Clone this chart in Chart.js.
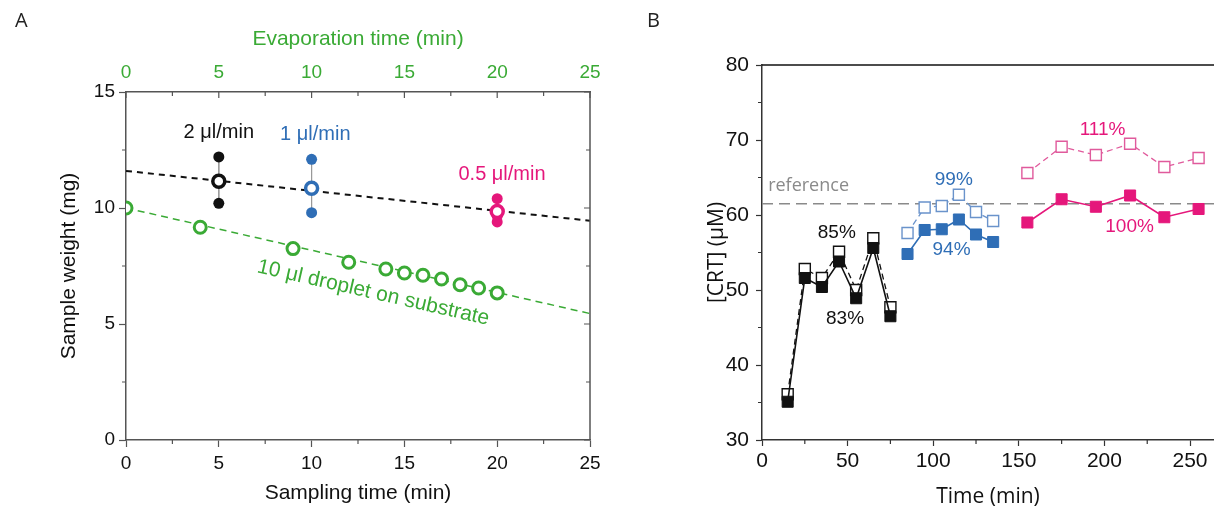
<!DOCTYPE html>
<html>
<head>
<meta charset="utf-8">
<script src="https://cdn.jsdelivr.net/npm/chart.js@4.4.0/dist/chart.umd.min.js"></script>
<style>
  html, body { margin: 0; padding: 0; background: #fff; }
  #wrap { position: relative; width: 1214px; height: 510px; overflow: hidden; }
  .panel { position: absolute; top: 0; height: 510px; }
  #panelA { left: 0; width: 640px; }
  #panelB { left: 640px; width: 574px; }
  .letter { position: absolute; top: 6px; font: 20px "Open Sans", sans-serif; color: #222; }
</style>
</head>
<body>
<div id="wrap">
  <div class="panel" id="panelA"><canvas id="chartA"></canvas></div>
  <div class="panel" id="panelB"><canvas id="chartB"></canvas></div>
  <div class="letter" style="left:15px">A</div>
  <div class="letter" style="left:647px">B</div>
</div>
<script>
// ---- panel A: sample weight vs time ----
var flowTimes = [5, 10, 20];
var flowLabels = ['2 μl/min', '1 μl/min', '0.5 μl/min'];
var flowReps = [[12.2, 10.2], [12.1, 9.8], [10.4, 9.65, 9.4]];
var flowMeans = [11.15, 10.85, 9.85];
var fitRange = [0, 25];
var flowFit = [11.6, 9.45];
var evapTimes = [0, 4, 9, 12, 14, 15, 16, 17, 18, 19, 20];
var evapWeights = [10.0, 9.17, 8.25, 7.66, 7.37, 7.2, 7.1, 6.94, 6.69, 6.55, 6.34];
var evapFit = [10.0, 5.45];
var evapLabel = '10 μl droplet on substrate';

// ---- panel B: [CRT] vs time ----
var timesFast = [15, 25, 35, 45, 55, 65, 75];
var crtFastFilled = [35.1, 51.6, 50.4, 53.8, 48.9, 55.6, 46.5];
var crtFastOpen = [36.1, 52.8, 51.6, 55.1, 50.0, 56.9, 47.7];
var timesMid = [85, 95, 105, 115, 125, 135];
var crtMidFilled = [54.8, 58.0, 58.1, 59.4, 57.4, 56.4];
var crtMidOpen = [57.6, 61.0, 61.2, 62.7, 60.4, 59.2];
var timesSlow = [155, 175, 195, 215, 235, 255];
var crtSlowFilled = [59.0, 62.1, 61.1, 62.6, 59.7, 60.8];
var crtSlowOpen = [65.6, 69.1, 68.0, 69.5, 66.4, 67.6];
var referenceLevel = 61.5;
var recoveryLabels = ['85%', '83%', '99%', '94%', '111%', '100%'];

var BLACK = '#111111', BLUE = '#2f6eb6', BLUE_LT = '#6a93cb', PINK = '#e5177b', PINK_LT = '#e05a9c', GREEN = '#3aaa35';
var ARIAL = '"Liberation Sans", Arial, sans-serif';
var HUMAN = '"Open Sans", "Noto Sans", sans-serif';

function pts(xs, ys) {
    return xs.map(function (x, i) { return {x: x, y: ys[i]}; });
}

// keep the axis boxes at a fixed size
function fixBox(w, h) {
    return function (s) {
        if (w !== null) s.width = w;
        if (h !== null) s.height = h;
        s.paddingLeft = s.paddingRight = 0;
    };
}

// minor ticks, mirrored ticks and extra frame lines
function framePlugin(id, cfg) {
    return {
        id: id,
        afterDraw: function (chart) {
            var ctx = chart.ctx, a = chart.chartArea, sx = chart.scales.x, sy = chart.scales.y;
            ctx.save();
            ctx.strokeStyle = cfg.color;
            ctx.lineWidth = 1.5;
            ctx.beginPath();
            if (cfg.right) { ctx.moveTo(a.right, a.top); ctx.lineTo(a.right, a.bottom); }
            if (cfg.topLine) { ctx.strokeStyle = BLACK; ctx.moveTo(a.left, a.top); ctx.lineTo(a.right, a.top); }
            ctx.stroke();
            ctx.strokeStyle = cfg.color;
            ctx.lineWidth = 1.2;
            ctx.beginPath();
            var v, p, major;
            for (v = sx.min; v <= sx.max + 1e-6; v += cfg.xMinor) {
                p = sx.getPixelForValue(v);
                major = Math.abs(v / cfg.xMajor - Math.round(v / cfg.xMajor)) < 1e-6;
                if (!major) { ctx.moveTo(p, a.bottom); ctx.lineTo(p, a.bottom + 4); }
                if (cfg.topTicks) { ctx.moveTo(p, a.top); ctx.lineTo(p, a.top + (major ? 6 : 4)); }
            }
            for (v = sy.min; v <= sy.max + 1e-6; v += cfg.yMinor) {
                p = sy.getPixelForValue(v);
                major = Math.abs(v / cfg.yMajor - Math.round(v / cfg.yMajor)) < 1e-6;
                if (!major) { ctx.moveTo(a.left, p); ctx.lineTo(a.left - 4, p); }
                if (cfg.right) { ctx.moveTo(a.right, p); ctx.lineTo(a.right - (major ? 6 : 4), p); }
            }
            ctx.stroke();
            ctx.restore();
        }
    };
}

// text notes placed in data coordinates
function notesPlugin(id, notes) {
    return {
        id: id,
        afterDatasetsDraw: function (chart) {
            var ctx = chart.ctx, sx = chart.scales.x, sy = chart.scales.y;
            ctx.save();
            notes.forEach(function (n) {
                ctx.save();
                ctx.font = n.font;
                ctx.fillStyle = n.color;
                ctx.textAlign = 'center';
                ctx.textBaseline = 'middle';
                ctx.translate(sx.getPixelForValue(n.x), sy.getPixelForValue(n.y));
                if (n.along) {
                    var dx = sx.getPixelForValue(n.along[2]) - sx.getPixelForValue(n.along[0]);
                    var dy = sy.getPixelForValue(n.along[3]) - sy.getPixelForValue(n.along[1]);
                    ctx.rotate(Math.atan2(dy, dx));
                }
                ctx.fillText(n.text, 0, 0);
                ctx.restore();
            });
            ctx.restore();
        }
    };
}

// ---------------- panel A ----------------
var rateColors = [BLACK, BLUE, PINK];
var dsA = [];
flowTimes.forEach(function (t, i) {
    dsA.push({
        data: flowReps[i].map(function (v) { return {x: t, y: v}; }),
        showLine: false, pointRadius: 5.5, pointBorderWidth: 0,
        backgroundColor: rateColors[i], borderColor: rateColors[i], order: 2
    });
    dsA.push({
        data: [{x: t, y: flowMeans[i]}],
        showLine: false, pointRadius: 6, pointBorderWidth: 3.5,
        backgroundColor: '#ffffff', borderColor: rateColors[i], order: 1
    });
    dsA.push({
        data: [{x: t, y: Math.max.apply(null, flowReps[i])}, {x: t, y: Math.min.apply(null, flowReps[i])}],
        borderColor: '#9a9a9a', borderWidth: 1, pointRadius: 0, order: 4
    });
});
dsA.push({
    data: pts(fitRange, flowFit),
    borderColor: BLACK, borderWidth: 2, borderDash: [6, 5], pointRadius: 0, order: 5
});
dsA.push({
    data: pts(fitRange, evapFit),
    borderColor: GREEN, borderWidth: 1.5, borderDash: [7, 5], pointRadius: 0, order: 5
});
dsA.push({
    data: pts(evapTimes, evapWeights),
    showLine: false, pointRadius: 6, pointBorderWidth: 3,
    backgroundColor: '#ffffff', borderColor: GREEN, order: 0
});

var notesA = [
    {text: flowLabels[0], x: 5, y: 13.26, color: BLACK, font: '20px ' + ARIAL},
    {text: flowLabels[1], x: 10.2, y: 13.16, color: BLUE, font: '20px ' + ARIAL},
    {text: flowLabels[2], x: 20.26, y: 11.43, color: PINK, font: '20px ' + ARIAL},
    {text: evapLabel, x: 13.32, y: 6.34, color: GREEN, font: '21px ' + ARIAL,
        along: [fitRange[0], evapFit[0], fitRange[1], evapFit[1]]}
];

new Chart(document.getElementById('chartA').getContext('2d'), {
    type: 'line',
    data: {datasets: dsA},
    options: {
        responsive: true,
        maintainAspectRatio: false,
        animation: false,
        events: [],
        layout: {autoPadding: false, padding: {left: 0, right: 50, top: 0, bottom: 0}},
        plugins: {legend: {display: false}, tooltip: {enabled: false}},
        scales: {
            x: {
                type: 'linear', position: 'bottom', min: 0, max: 25,
                ticks: {stepSize: 5, color: BLACK, padding: 5, font: {family: ARIAL, size: 19}},
                grid: {drawOnChartArea: false, tickLength: 7, tickColor: '#555', tickWidth: 1.2},
                border: {color: '#555', width: 1.5},
                title: {display: true, text: 'Sampling time (min)', color: BLACK,
                    font: {family: ARIAL, size: 21}, padding: {top: 0, bottom: 4}},
                afterFit: fixBox(null, 70)
            },
            x2: {
                type: 'linear', position: 'top', min: 0, max: 25,
                ticks: {stepSize: 5, color: GREEN, padding: 8, font: {family: ARIAL, size: 19}},
                grid: {drawOnChartArea: false, drawTicks: false},
                border: {color: '#555', width: 1.5},
                title: {display: true, text: 'Evaporation time (min)', color: GREEN,
                    font: {family: ARIAL, size: 21}, padding: {top: 27, bottom: 0}},
                afterFit: fixBox(null, 92)
            },
            y: {
                type: 'linear', min: 0, max: 15,
                ticks: {stepSize: 5, color: BLACK, padding: 4, font: {family: ARIAL, size: 19}},
                grid: {drawOnChartArea: false, tickLength: 7, tickColor: '#555', tickWidth: 1.2},
                border: {color: '#555', width: 1.5},
                title: {display: true, text: 'Sample weight (mg)', color: BLACK,
                    font: {family: ARIAL, size: 21}, padding: {top: 57, bottom: 0}},
                afterFit: fixBox(126, null)
            }
        }
    },
    plugins: [
        framePlugin('frameA', {color: '#555', right: true, topTicks: true, xMinor: 2.5, xMajor: 5, yMinor: 2.5, yMajor: 5}),
        notesPlugin('notesA', notesA)
    ]
});

// ---------------- panel B ----------------
var xMaxB = 264;

function squareSet(xs, ys, color, filled, order) {
    return {
        data: pts(xs, ys),
        borderColor: color,
        borderWidth: filled ? 1.6 : 1.3,
        borderDash: filled ? [] : [6, 4],
        pointStyle: 'rect',
        pointRadius: 7.8,
        pointBorderWidth: filled ? 1 : 1.4,
        pointBackgroundColor: filled ? color : '#ffffff',
        pointBorderColor: color,
        order: order
    };
}

var dsB = [
    squareSet(timesFast, crtFastFilled, BLACK, true, 0),
    squareSet(timesFast, crtFastOpen, BLACK, false, 1),
    squareSet(timesMid, crtMidFilled, BLUE, true, 0),
    squareSet(timesMid, crtMidOpen, BLUE_LT, false, 1),
    squareSet(timesSlow, crtSlowFilled, PINK, true, 0),
    squareSet(timesSlow, crtSlowOpen, PINK_LT, false, 1),
    {
        data: [{x: 0, y: referenceLevel}, {x: xMaxB, y: referenceLevel}],
        borderColor: '#8a8a8a', borderWidth: 1.5, borderDash: [11, 6], pointRadius: 0, order: 9
    }
];

var notesB = [
    {text: 'reference', x: 27.2, y: 63.9, color: '#8a8a8a', font: '18px ' + HUMAN},
    {text: recoveryLabels[0], x: 43.7, y: 57.6, color: BLACK, font: '19px ' + ARIAL},
    {text: recoveryLabels[1], x: 48.5, y: 46.1, color: BLACK, font: '19px ' + ARIAL},
    {text: recoveryLabels[2], x: 112, y: 64.76, color: BLUE, font: '19px ' + ARIAL},
    {text: recoveryLabels[3], x: 110.7, y: 55.4, color: BLUE, font: '19px ' + ARIAL},
    {text: recoveryLabels[4], x: 198.9, y: 71.4, color: PINK, font: '19px ' + ARIAL},
    {text: recoveryLabels[5], x: 214.7, y: 58.4, color: PINK, font: '19px ' + ARIAL}
];

new Chart(document.getElementById('chartB').getContext('2d'), {
    type: 'line',
    data: {datasets: dsB},
    options: {
        responsive: true,
        maintainAspectRatio: false,
        animation: false,
        events: [],
        layout: {autoPadding: false, padding: {left: 0, right: 0, top: 65, bottom: 0}},
        plugins: {legend: {display: false}, tooltip: {enabled: false}},
        scales: {
            x: {
                type: 'linear', min: 0, max: xMaxB,
                ticks: {stepSize: 50, includeBounds: false, color: BLACK, padding: 3, font: {family: ARIAL, size: 21}},
                grid: {drawOnChartArea: false, tickLength: 6, tickColor: '#333', tickWidth: 1.2},
                border: {color: '#333', width: 1.5},
                title: {display: true, text: 'Time (min)', color: BLACK,
                    font: {family: HUMAN, size: 21}, padding: {top: 0, bottom: 0}},
                afterFit: fixBox(null, 70)
            },
            y: {
                type: 'linear', min: 30, max: 80,
                ticks: {stepSize: 10, color: BLACK, padding: 7, font: {family: ARIAL, size: 21}},
                grid: {drawOnChartArea: false, tickLength: 6, tickColor: '#333', tickWidth: 1.2},
                border: {color: '#333', width: 1.5},
                title: {display: true, text: '[CRT] (μM)', color: BLACK,
                    font: {family: HUMAN, size: 21}, padding: {top: 64, bottom: 0}},
                afterFit: fixBox(122, null)
            }
        }
    },
    plugins: [
        framePlugin('frameB', {color: '#333', right: false, topLine: true, topTicks: false, xMinor: 25, xMajor: 50, yMinor: 5, yMajor: 10}),
        notesPlugin('notesB', notesB)
    ]
});
</script>
</body>
</html>
